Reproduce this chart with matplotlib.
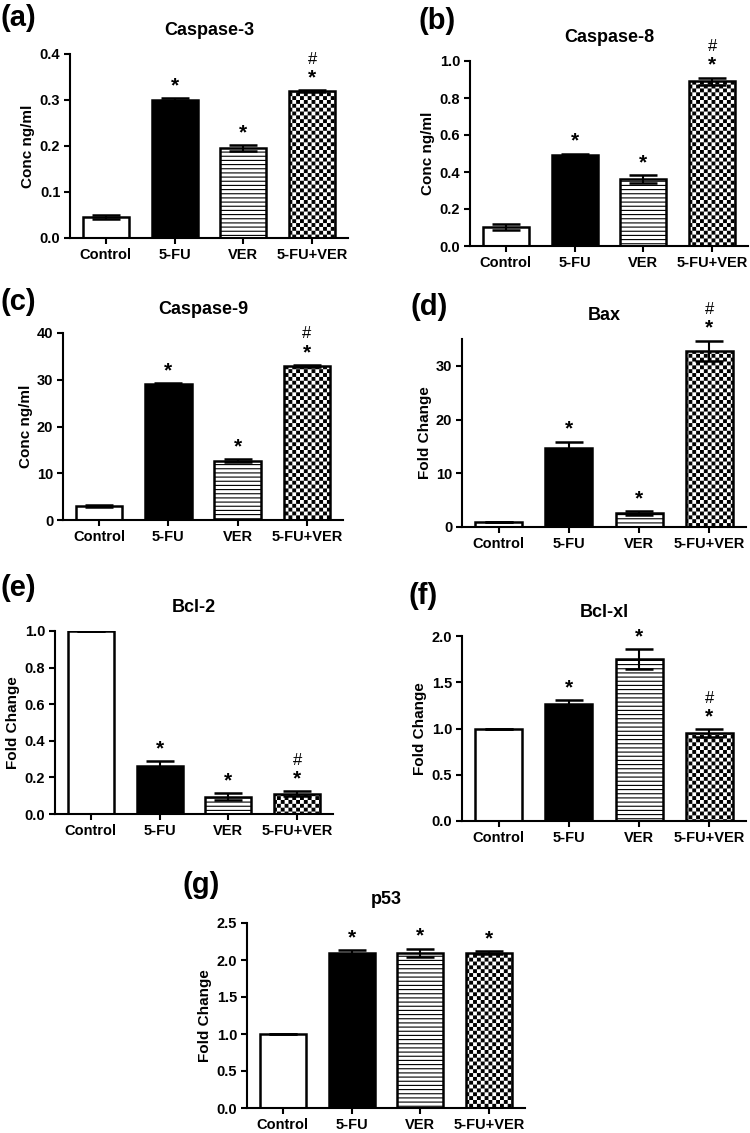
import warnings
import numpy as np
import matplotlib
matplotlib.use("Agg")
import matplotlib.pyplot as plt
import matplotlib.hatch as mhatch
from matplotlib.path import Path

warnings.filterwarnings("ignore")

plt.rcParams["font.family"] = ["Liberation Sans", "DejaVu Sans"]
plt.rcParams["hatch.linewidth"] = 0.8

groups = ["Control", "5-FU", "VER", "5-FU+VER"]

casp3_mean = [0.046, 0.301, 0.196, 0.319]
casp3_err = [0.005, 0.003, 0.006, 0.002]
casp8_mean = [0.104, 0.490, 0.362, 0.890]
casp8_err = [0.015, 0.010, 0.022, 0.020]
casp9_mean = [3.0, 29.0, 12.7, 33.0]
casp9_err = [0.3, 0.2, 0.3, 0.2]
bax_mean = [1.0, 14.7, 2.6, 32.8]
bax_err = [0.0, 1.2, 0.4, 1.9]
bcl2_mean = [1.0, 0.264, 0.095, 0.112]
bcl2_err = [0.0, 0.024, 0.018, 0.013]
bclxl_mean = [1.0, 1.27, 1.75, 0.948]
bclxl_err = [0.0, 0.04, 0.11, 0.045]
p53_mean = [1.0, 2.10, 2.10, 2.10]
p53_err = [0.0, 0.035, 0.055, 0.020]

star_marks = [False, True, True, True]
hash_marks = [False, False, False, True]


class CheckerHatch(mhatch.HatchPatternBase):
    """hatch 'c' -> filled checkerboard (26 cells per inch)"""

    def __init__(self, hatch, density):
        self.n = 26 if "c" in hatch else 0
        self.num_vertices = (self.n * self.n // 2) * 5

    def set_vertices_and_codes(self, vertices, codes):
        s = 1.0 / self.n
        shrink = plt.rcParams["hatch.linewidth"] / 72.0
        inner = s - shrink
        k = 0
        for i in range(self.n):
            for j in range(self.n):
                if (i + j) % 2:
                    continue
                x0 = i * s + shrink / 2
                y0 = j * s + shrink / 2
                vertices[k:k + 5] = [(x0, y0), (x0 + inner, y0),
                                     (x0 + inner, y0 + inner),
                                     (x0, y0 + inner), (x0, y0)]
                codes[k:k + 5] = [Path.MOVETO, Path.LINETO, Path.LINETO,
                                  Path.LINETO, Path.CLOSEPOLY]
                k += 5


mhatch._hatch_types.append(CheckerHatch)

fills = ["white", "black", "white", "white"]
hatches = [None, None, "----", "c"]

W, H = 750, 1133
fig = plt.figure(figsize=(7.5, 11.33), dpi=100)


def px_axes(left, bottom, width, height):
    return fig.add_axes([left / W, 1 - bottom / H, width / W, height / H])


def panel(box, tag, tag_xy, title, ylabel, mean, err, ylim, yticks, fmt, with_hash=True):
    ax = px_axes(*box)
    x = np.arange(len(groups))
    ax.bar(x, mean, width=0.67, color=fills, edgecolor="black",
           linewidth=1.8, hatch=hatches, zorder=2)
    ax.errorbar(x, mean, yerr=err, fmt="none", ecolor="black",
                elinewidth=1.5, capsize=10, capthick=1.8, zorder=3)
    for i in range(len(groups)):
        top = mean[i] + err[i]
        if star_marks[i]:
            ax.annotate("*", (x[i], top), xytext=(0, 2), textcoords="offset points",
                        ha="center", va="bottom", fontsize=15, fontweight="bold")
        if with_hash and hash_marks[i]:
            ax.annotate("#", (x[i], top), xytext=(0, 17), textcoords="offset points",
                        ha="center", va="bottom", fontsize=12)
    ax.set_xlim(-0.52, 3.52)
    ax.set_ylim(*ylim)
    ax.set_yticks(yticks)
    ax.set_yticklabels([fmt.format(v) for v in yticks])
    ax.set_xticks(x)
    ax.set_xticklabels(groups)
    for lab in ax.get_xticklabels() + ax.get_yticklabels():
        lab.set_fontweight("bold")
        lab.set_fontsize(10.5)
    ax.spines["top"].set_visible(False)
    ax.spines["right"].set_visible(False)
    ax.spines["left"].set_linewidth(1.5)
    ax.spines["bottom"].set_linewidth(1.5)
    ax.tick_params(width=1.5, length=4, pad=3)
    ax.set_ylabel(ylabel, fontsize=11, fontweight="bold", labelpad=3)
    ax.set_title(title, fontsize=13, fontweight="bold", pad=14)
    fig.text(tag_xy[0] / W, 1 - tag_xy[1] / H, tag, fontsize=21,
             fontweight="bold", ha="left", va="center")
    return ax


panel((70, 238, 278, 184), "(a)", (1, 18), "Caspase-3", "Conc ng/ml",
      casp3_mean, casp3_err, (0, 0.4), [0, 0.1, 0.2, 0.3, 0.4], "{:.1f}")
panel((470, 246, 278, 185), "(b)", (418, 21), "Caspase-8", "Conc ng/ml",
      casp8_mean, casp8_err, (0, 1.0), [0, 0.2, 0.4, 0.6, 0.8, 1.0], "{:.1f}")
panel((63, 520, 280, 187), "(c)", (1, 302), "Caspase-9", "Conc ng/ml",
      casp9_mean, casp9_err, (0, 40), [0, 10, 20, 30, 40], "{:.0f}")
panel((462, 527, 284, 188), "(d)", (410, 307), "Bax", "Fold Change",
      bax_mean, bax_err, (0, 35), [0, 10, 20, 30], "{:.0f}")
panel((55, 814, 278, 183), "(e)", (1, 588), "Bcl-2", "Fold Change",
      bcl2_mean, bcl2_err, (0, 1.0), [0, 0.2, 0.4, 0.6, 0.8, 1.0], "{:.1f}")
panel((462, 821, 284, 185), "(f)", (408, 596), "Bcl-xl", "Fold Change",
      bclxl_mean, bclxl_err, (0, 2.0), [0, 0.5, 1.0, 1.5, 2.0], "{:.1f}")
panel((247, 1108, 278, 185), "(g)", (182, 885), "p53", "Fold Change",
      p53_mean, p53_err, (0, 2.5), [0, 0.5, 1.0, 1.5, 2.0, 2.5], "{:.1f}",
      with_hash=False)

fig.savefig("out.png", dpi=100)
